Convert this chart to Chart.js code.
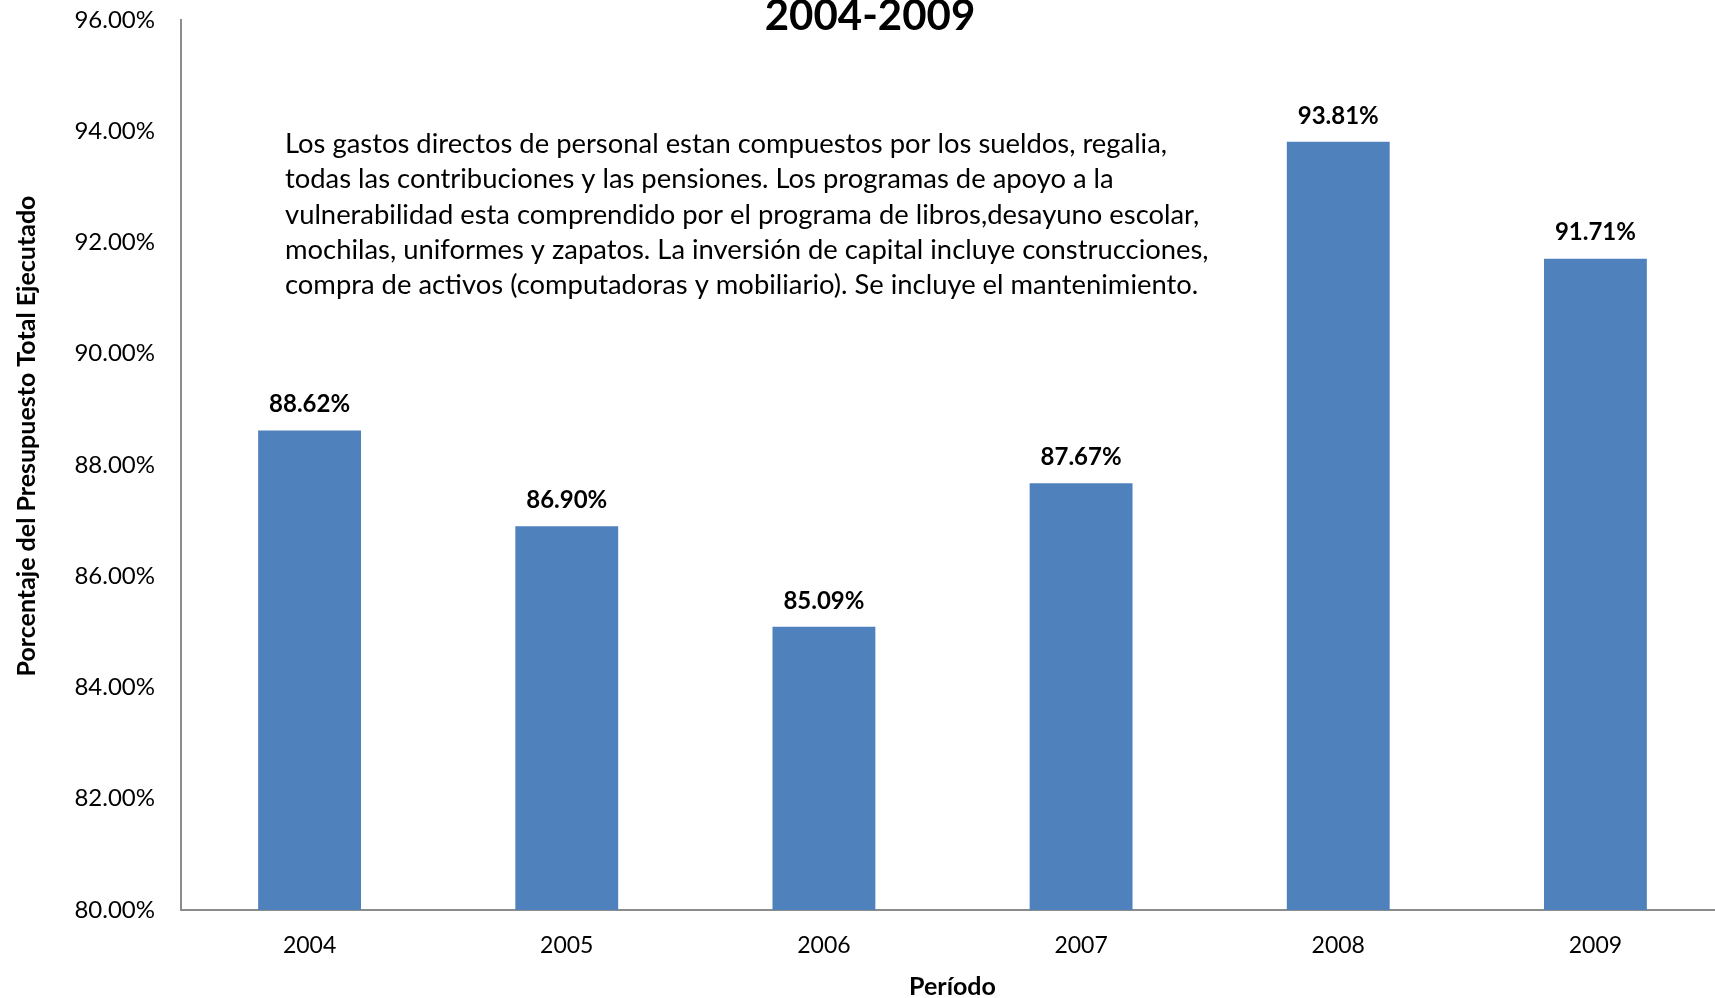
<!DOCTYPE html>
<html>
<head>
<meta charset="utf-8">
<script src="https://cdn.jsdelivr.net/npm/chart.js@4/dist/chart.umd.min.js"></script>
<style>
  html, body { margin: 0; padding: 0; background: #fff; overflow: hidden; }
</style>
</head>
<body>
<!-- a bit wider than the window: the plot area runs past the right edge in the original -->
<canvas id="chart" width="1724" height="998"></canvas>
<script>
// the numbers
const years = ["2004", "2005", "2006", "2007", "2008", "2009"]
const percentEjecutado = [88.62, 86.90, 85.09, 87.67, 93.81, 91.71]
const yTicks = [80, 82, 84, 86, 88, 90, 92, 94, 96]
const chartTitle = "2004-2009"
const yTitle = "Porcentaje del Presupuesto Total Ejecutado"
const xTitle = "Período"
const notaLines = [
  "Los gastos directos de personal estan compuestos por los sueldos, regalia,",
  "todas las contribuciones y las pensiones. Los programas de apoyo a la",
  "vulnerabilidad esta comprendido por el programa de libros,desayuno escolar,",
  "mochilas, uniformes y zapatos. La inversión de capital incluye construcciones,",
  "compra de activos (computadoras y mobiliario). Se incluye el mantenimiento."
]

const fontName = "Lato, 'Open Sans', sans-serif"
const axisGray = "#8c8c8c"

//draws the value over each bar, the title, the rotated y title and the note
const extras = {
  id: "extras",
  afterDatasetsDraw(chart) {
    let ctx = chart.ctx
    let meta = chart.getDatasetMeta(0)
    ctx.save()
    ctx.fillStyle = "#000"
    ctx.textAlign = "center"
    ctx.textBaseline = "middle"
    ctx.font = "bold 24px " + fontName
    meta.data.forEach((bar, i) => {
      ctx.fillText(percentEjecutado[i].toFixed(2) + "%", bar.x, bar.y - 26)
    })

    // chart title, partly cut at the top like the original
    ctx.font = "bold 42px " + fontName
    ctx.fillText(chartTitle, 870, 16)

    // y axis title
    ctx.save()
    ctx.translate(27, 436)
    ctx.rotate(-Math.PI / 2)
    ctx.font = "bold 25px " + fontName
    ctx.fillText(yTitle, 0, 0)
    ctx.restore()

    // the note in the middle of the chart
    ctx.textAlign = "left"
    ctx.font = "27.4px " + fontName
    notaLines.forEach((line, i) => {
      ctx.fillText(line, 285, 144 + i * 35.4)
    })
    ctx.restore()
  }
}

let canvas = document.getElementById("chart")
let chart = new Chart(canvas, {
  type: "bar",
  data: {
    labels: years,
    datasets: [{
      data: percentEjecutado,
      backgroundColor: "#4f81bd",
      borderWidth: 0,
      categoryPercentage: 1,
      barPercentage: 0.4
    }]
  },
  options: {
    responsive: false,
    maintainAspectRatio: false,
    animation: false,
    devicePixelRatio: 1,
    layout: { padding: { top: 20, left: 0, right: 0, bottom: 0 } },
    plugins: {
      legend: { display: false },
      title: { display: false },
      tooltip: { enabled: false }
    },
    scales: {
      x: {
        grid: { display: false, drawTicks: false },
        border: { display: true, color: axisGray, width: 2 },
        ticks: { color: "#000", font: { family: fontName, size: 23 }, padding: 22 },
        title: {
          display: true, text: xTitle, color: "#000",
          font: { family: fontName, size: 25, weight: "bold" },
          padding: { top: -4, bottom: -4 }
        },
        afterFit(scale) { scale.height = 88 }
      },
      y: {
        min: 80,
        max: 96,
        // tick marks are hidden, their length only pushes the labels away from the axis
        grid: { display: false, drawTicks: true, tickLength: 26 },
        border: { display: true, color: axisGray, width: 2 },
        afterBuildTicks(scale) { scale.ticks = yTicks.map(v => ({ value: v })) },
        ticks: {
          color: "#000",
          font: { family: fontName, size: 24 },
          padding: 0,
          callback: v => v.toFixed(2) + "%"
        },
        afterFit(scale) { scale.width = 181 }
      }
    }
  },
  plugins: [extras]
})
</script>
</body>
</html>
